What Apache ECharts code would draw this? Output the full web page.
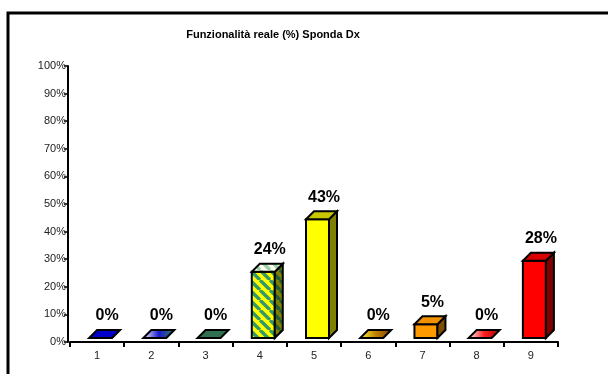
<!DOCTYPE html>
<html>
<head>
<meta charset="utf-8">
<script src="https://cdn.jsdelivr.net/npm/echarts@6/dist/echarts.min.js"></script>
<style>
  html, body { margin: 0; padding: 0; background: #fff; }
  #chart { width: 608px; height: 374px; }
</style>
</head>
<body>
<div id="chart"></div>
<script>
// Categories and percentages for the "Sponda Dx" chart
const categories = ['1', '2', '3', '4', '5', '6', '7', '8', '9'];
const values = [0, 0, 0, 24, 43, 0, 5, 0, 28];
const valueLabels = ['0%', '0%', '0%', '24%', '43%', '0%', '5%', '0%', '28%'];
const yTicks = [0, 10, 20, 30, 40, 50, 60, 70, 80, 90, 100];
const chartTitle = 'Funzionalità reale (%) Sponda Dx';

// Diagonal stripe pattern used by column 4
function stripes(bg, fg) {
  const n = 10;
  const c = document.createElement('canvas');
  c.width = n; c.height = n;
  const g = c.getContext('2d');
  g.fillStyle = bg; g.fillRect(0, 0, n, n);
  g.strokeStyle = fg; g.lineWidth = 3.4;
  g.beginPath();
  for (let k = -n; k <= 2 * n; k += n) { g.moveTo(k, 0); g.lineTo(k + n, n); }
  g.stroke();
  return { image: c, repeat: 'repeat' };
}
function grad(stops) {
  return new echarts.graphic.LinearGradient(0, 0, 1, 0,
    stops.map((s, i) => ({ offset: i / (stops.length - 1), color: s })));
}

// front / top / side fills for each column
const faces = [
  { front: '#0000C0', top: '#0000C8', side: '#000060' },
  { front: '#2E7A55', top: grad(['#ffffff', '#1a1ad0', '#2E8A5A']), side: '#1a4030' },
  { front: '#2E7050', top: '#2E7050', side: '#17382a' },
  { front: stripes('#FFFF00', '#339966'), top: stripes('#FFFFF0', '#9ad0a8'), side: stripes('#808000', '#1f5c3d') },
  { front: '#FFFF00', top: '#C8C800', side: '#808000' },
  { front: '#FF9900', top: grad(['#FFFF40', '#C08000', '#804000']), side: '#7F4C00' },
  { front: '#FF9900', top: '#F29100', side: '#7F4C00' },
  { front: '#FF0000', top: grad(['#ffffff', '#FF2020', '#A00000']), side: '#800000' },
  { front: '#FF0000', top: '#D80000', side: '#800000' }
];

const chart = echarts.init(document.getElementById('chart'), null, { renderer: 'canvas' });

function renderBox(params, api) {
  const i = api.value(0);
  const v = api.value(1);
  const base = api.coord([i, 0]);
  const top = api.coord([i, v]);
  const h = base[1] - top[1];
  const cx = base[0];
  const w = 23, dx = 8, dy = 8;
  const x0 = cx - 8;
  const y0 = base[1] - 4;
  const y1 = y0 - h;
  const f = faces[i];
  const stroke = { stroke: '#000', lineWidth: 2, lineJoin: 'miter' };
  const children = [];
  if (h > 0.5) {
    children.push({
      type: 'rect', shape: { x: x0, y: y1, width: w, height: h },
      style: Object.assign({ fill: f.front }, stroke)
    });
    children.push({
      type: 'polygon',
      shape: { points: [[x0 + w, y0], [x0 + w + dx, y0 - dy], [x0 + w + dx, y1 - dy], [x0 + w, y1]] },
      style: Object.assign({ fill: f.side }, stroke)
    });
  }
  children.push({
    type: 'polygon',
    shape: { points: [[x0, y1], [x0 + w, y1], [x0 + w + dx, y1 - dy], [x0 + dx, y1 - dy]] },
    style: Object.assign({ fill: f.top }, stroke)
  });
  children.push({
    type: 'text',
    style: {
      x: cx + 10, y: y1 - dy - 14,
      text: valueLabels[i],
      font: 'bold 16px Arial, "Liberation Sans", sans-serif',
      fill: '#000', align: 'center', verticalAlign: 'middle'
    }
  });
  return { type: 'group', children: children };
}

chart.setOption({
  animation: false,
  backgroundColor: '#fff',
  title: {
    text: chartTitle,
    left: 268, top: 24, textAlign: 'center',
    textStyle: { fontFamily: 'Arial, "Liberation Sans", sans-serif', fontSize: 11, fontWeight: 'bold', color: '#000' }
  },
  graphic: [{
    type: 'rect', silent: true,
    shape: { x: 8, y: 13, width: 640, height: 420 },
    style: { fill: 'none', stroke: '#000', lineWidth: 3 }
  }],
  grid: { left: 70, right: 50, top: 66, bottom: 32 },
  xAxis: {
    type: 'category',
    data: categories,
    boundaryGap: true,
    axisLine: { lineStyle: { color: '#000', width: 2 } },
    axisTick: { show: true, interval: 0, length: 5, lineStyle: { color: '#000', width: 2 } },
    axisLabel: { color: '#222', fontSize: 11, fontFamily: 'Arial, "Liberation Sans", sans-serif', margin: 8 },
    splitLine: { show: false }
  },
  yAxis: {
    type: 'value',
    min: yTicks[0], max: yTicks[yTicks.length - 1], interval: 10,
    offset: 2,
    axisLine: { show: true, lineStyle: { color: '#000', width: 2 } },
    axisTick: { show: true, length: 4, lineStyle: { color: '#000', width: 1.5 } },
    axisLabel: { color: '#222', fontSize: 11, fontFamily: 'Arial, "Liberation Sans", sans-serif', margin: 2, formatter: '{value}%' },
    splitLine: { show: false }
  },
  series: [{
    type: 'custom',
    renderItem: renderBox,
    data: values.map((v, i) => [i, v]),
    encode: { x: 0, y: 1 },
    clip: false
  }]
});
</script>
</body>
</html>
